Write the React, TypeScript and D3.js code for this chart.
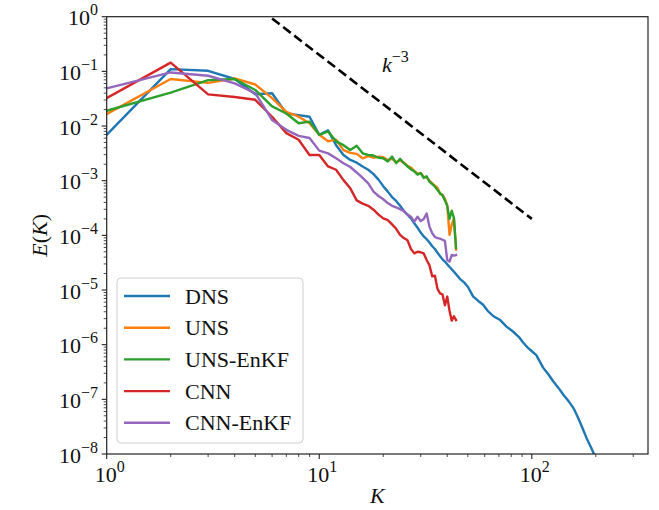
import React from "react";
import * as d3 from "d3";

// ---- data (log10 of E(K)) ----
const kLow: number[] = Array.from({ length: 44 }, (_, i) => i + 1);

const dnsK: number[] = [
  1, 2, 3, 4, 5, 6, 7, 8, 9, 10, 11, 12, 13, 14, 15, 16, 17, 18, 19, 20, 21, 22, 23, 24, 25, 26, 27, 28, 29, 30,
  31, 32, 33, 34, 35, 36, 37, 38, 39, 40, 42, 44, 46, 48, 50, 53, 56, 59, 62, 66, 71, 76, 81, 87, 91, 96, 100,
  105, 113, 120, 126, 134, 141, 150, 157, 163, 169, 175, 181, 190, 197, 202,
];
const dnsLog: number[] = [
  -2.16, -0.96, -0.99, -1.14, -1.42, -1.40, -1.77, -1.80, -1.83, -2.16, -2.08, -2.35, -2.53, -2.62, -2.67, -2.74,
  -2.80, -2.88, -2.98, -3.10, -3.20, -3.30, -3.37, -3.46, -3.55, -3.62, -3.69, -3.78, -3.86, -3.95, -4.02, -4.07,
  -4.13, -4.20, -4.25, -4.32, -4.38, -4.44, -4.48, -4.53, -4.62, -4.71, -4.80, -4.86, -4.94, -5.12, -5.20, -5.27,
  -5.38, -5.48, -5.55, -5.67, -5.75, -5.86, -5.96, -6.06, -6.12, -6.19, -6.42, -6.55, -6.67, -6.80, -6.92, -7.05,
  -7.16, -7.29, -7.43, -7.57, -7.71, -7.88, -8.02, -8.12,
];
const unsLog: number[] = [
  -1.78, -1.14, -1.21, -1.13, -1.24, -1.49, -1.74, -1.83, -1.95, -2.16, -2.28, -2.25, -2.44, -2.49, -2.51, -2.59,
  -2.55, -2.58, -2.56, -2.57, -2.62, -2.60, -2.66, -2.63, -2.67, -2.73, -2.76, -2.82, -2.87, -2.86, -2.93, -2.94,
  -3.00, -3.05, -3.09, -3.13, -3.24, -3.26, -3.33, -3.45, -3.99, -3.80, -3.69, -4.26,
];
const unsEnkfLog: number[] = [
  -1.72, -1.39, -1.16, -1.14, -1.34, -1.64, -1.77, -1.95, -1.92, -2.16, -2.10, -2.28, -2.35, -2.44, -2.36, -2.50,
  -2.53, -2.54, -2.58, -2.59, -2.65, -2.56, -2.68, -2.60, -2.68, -2.74, -2.79, -2.83, -2.89, -2.86, -2.95, -2.92,
  -3.02, -3.06, -3.11, -3.17, -3.23, -3.27, -3.36, -3.46, -3.70, -3.55, -3.68, -4.23,
];
const cnnLog: number[] = [
  -1.49, -0.84, -1.42, -1.47, -1.52, -1.83, -2.13, -2.25, -2.53, -2.53, -2.74, -2.80, -2.99, -3.14, -3.36, -3.42,
  -3.46, -3.53, -3.62, -3.69, -3.72, -3.80, -3.88, -3.99, -4.05, -4.09, -4.25, -4.33, -4.30, -4.31, -4.33, -4.45,
  -4.55, -4.75, -4.74, -4.98, -5.06, -5.08, -5.28, -5.12, -5.38, -5.56, -5.48, -5.55,
];
const cnnEnkfLog: number[] = [
  -1.31, -1.02, -1.08, -1.22, -1.40, -1.89, -2.07, -2.18, -2.22, -2.45, -2.50, -2.59, -2.68, -2.75, -2.85, -2.95,
  -3.05, -3.20, -3.28, -3.34, -3.41, -3.46, -3.49, -3.52, -3.56, -3.62, -3.66, -3.75, -3.66, -3.74, -3.70, -3.60,
  -3.84, -3.96, -4.03, -4.05, -4.06, -4.08, -4.10, -4.45, -4.48, -4.36, -4.37, -4.36,
];

const seriesNames: string[] = ["DNS", "UNS", "UNS-EnKF", "CNN", "CNN-EnKF"];
const seriesColors: string[] = ["#1f77b4", "#ff7f0e", "#2ca02c", "#d62728", "#9467bd"];

const refK: number[] = [6, 100];
const refCoef = 200; // k^-3 guide: E = 200 k^-3

const xTickExps: number[] = [0, 1, 2];
const yTickExps: number[] = [0, -1, -2, -3, -4, -5, -6, -7, -8];

// ---- layout ----
const W = 659;
const H = 510;
const L = 106.7;
const R = 648;
const T = 16.7;
const B = 454;
const FONT = "'Liberation Serif', 'DejaVu Serif', serif";
const FS = 22;
const SUP = 16;

export default function App() {
  const x = d3.scaleLog().domain([1, 352]).range([L, R]);
  const y = d3.scaleLog().domain([1e-8, 1]).range([B, T]);

  const line = d3
    .line<[number, number]>()
    .x((d) => x(d[0]))
    .y((d) => y(Math.pow(10, d[1])));

  const series: [number, number][][] = [
    dnsK.map((k, i) => [k, dnsLog[i]] as [number, number]),
    kLow.map((k, i) => [k, unsLog[i]] as [number, number]),
    kLow.map((k, i) => [k, unsEnkfLog[i]] as [number, number]),
    kLow.map((k, i) => [k, cnnLog[i]] as [number, number]),
    kLow.map((k, i) => [k, cnnEnkfLog[i]] as [number, number]),
  ];

  const refPts: [number, number][] = refK.map((k) => [k, Math.log10(refCoef * Math.pow(k, -3))]);

  // minor ticks
  const xMinor: number[] = [];
  for (let e = 0; e <= 2; e++) {
    for (let m = 2; m <= 9; m++) {
      const v = m * Math.pow(10, e);
      if (v < 352) xMinor.push(v);
    }
  }
  const yMinor: number[] = [];
  for (let e = -8; e < 0; e++) {
    for (let m = 2; m <= 9; m++) yMinor.push(m * Math.pow(10, e));
  }

  const legendX = 117;
  const legendY = 278;
  const legendW = 186;
  const legendH = 165;
  const rowH = 31.7;

  return (
    <svg
      width={W}
      height={H}
      style={{ position: "absolute", left: 0, top: 0, background: "#fff" }}
      fontFamily={FONT}
    >
      <defs>
        <clipPath id="plotclip">
          <rect x={L} y={T} width={R - L} height={B - T} />
        </clipPath>
      </defs>
      <rect x={0} y={0} width={W} height={H} fill="#fff" />

      {/* data */}
      <g clipPath="url(#plotclip)">
        {series.map((s, i) => (
          <path
            key={seriesNames[i]}
            d={line(s) || ""}
            fill="none"
            stroke={seriesColors[i]}
            strokeWidth={2.4}
            strokeLinejoin="round"
            strokeLinecap="square"
          />
        ))}
        <path d={line(refPts) || ""} fill="none" stroke="#000" strokeWidth={2.6} strokeDasharray="9.5,4.5" />
      </g>

      {/* k^-3 label */}
      <text x={382} y={72} fontSize={FS} fill="#111">
        <tspan fontStyle="italic">k</tspan>
        <tspan dy={-10} fontSize={SUP}>
          −3
        </tspan>
      </text>

      {/* axes frame */}
      <rect x={L} y={T} width={R - L} height={B - T} fill="none" stroke="#222" strokeWidth={1.2} />

      {/* x ticks */}
      {xTickExps.map((e) => {
        const px = x(Math.pow(10, e));
        return (
          <g key={"xt" + e}>
            <line x1={px} x2={px} y1={B} y2={B + 5} stroke="#222" strokeWidth={1.1} />
            <text x={px + 3} y={482} fontSize={FS} textAnchor="middle" fill="#111">
              10
              <tspan dy={-10} fontSize={SUP}>
                {String(e)}
              </tspan>
            </text>
          </g>
        );
      })}
      {xMinor.map((v) => (
        <line key={"xm" + v} x1={x(v)} x2={x(v)} y1={B} y2={B + 3} stroke="#222" strokeWidth={0.8} />
      ))}

      {/* y ticks */}
      {yTickExps.map((e) => {
        const py = y(Math.pow(10, e));
        return (
          <g key={"yt" + e}>
            <line x1={L - 5} x2={L} y1={py} y2={py} stroke="#222" strokeWidth={1.1} />
            <text x={98} y={py + 8.5} fontSize={FS} textAnchor="end" fill="#111">
              10
              <tspan dy={-10} fontSize={SUP}>
                {e < 0 ? "−" + String(-e) : String(e)}
              </tspan>
            </text>
          </g>
        );
      })}
      {yMinor.map((v) => (
        <line key={"ym" + v} x1={L - 3} x2={L} y1={y(v)} y2={y(v)} stroke="#222" strokeWidth={0.8} />
      ))}

      {/* axis labels */}
      <text x={(L + R) / 2} y={503} fontSize={FS} fontStyle="italic" textAnchor="middle" fill="#111">
        K
      </text>
      <text
        transform={`translate(47,${(T + B) / 2}) rotate(-90)`}
        fontSize={FS}
        textAnchor="middle"
        fill="#111"
      >
        <tspan fontStyle="italic">E</tspan>(<tspan fontStyle="italic">K</tspan>)
      </text>

      {/* legend */}
      <rect
        x={legendX}
        y={legendY}
        width={legendW}
        height={legendH}
        rx={4}
        fill="#fff"
        fillOpacity={0.8}
        stroke="#d0d0d0"
        strokeWidth={1}
      />
      {seriesNames.map((n, i) => {
        const cy = 296 + i * rowH;
        return (
          <g key={"lg" + n}>
            <line x1={124} x2={170} y1={cy} y2={cy} stroke={seriesColors[i]} strokeWidth={2.4} />
            <text x={185} y={cy + 7.5} fontSize={FS} fill="#111">
              {n}
            </text>
          </g>
        );
      })}
    </svg>
  );
}
